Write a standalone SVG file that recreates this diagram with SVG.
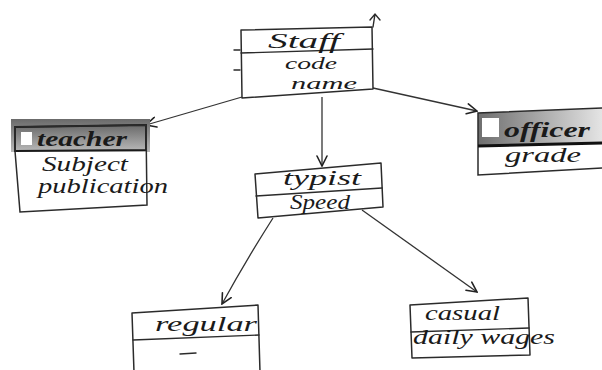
<svg xmlns="http://www.w3.org/2000/svg" width="602" height="370" viewBox="0 0 602 370">
<style>
.box{fill:#fff;stroke:#2b2b2b;stroke-width:1.5;stroke-linejoin:round}
.ln{fill:none;stroke:#2b2b2b;stroke-width:1.4;stroke-linecap:round}
.t{font-family:"Liberation Serif",serif;font-style:italic;fill:#1a1a1a;font-size:20px}
.s{font-size:17px}
.b{font-weight:bold}
.con{fill:none;stroke:#333;stroke-width:1.3;marker-end:url(#arr)}
</style>
<defs>
<marker id="arr" viewBox="0 0 12 12" refX="11" refY="6" markerWidth="12" markerHeight="12" markerUnits="userSpaceOnUse" orient="auto">
<path d="M1,1 L11,6 L1,11" fill="none" stroke="#222" stroke-width="1.6" stroke-linecap="round"/>
</marker>
<linearGradient id="gT" x1="0" y1="0" x2="0" y2="1">
<stop offset="0" stop-color="#6a6a6a"/><stop offset="1" stop-color="#b8b8b8"/>
</linearGradient>
<linearGradient id="gO" x1="0" y1="0" x2="1" y2="0">
<stop offset="0" stop-color="#6e6e6e"/><stop offset="1" stop-color="#e4e4e4"/>
</linearGradient>
</defs>
<rect width="602" height="370" fill="#fff"/>

<g id="connectors">
<path class="con" d="M242,97 L146,125"/>
<path class="con" d="M373,88 L477,111"/>
<path class="con" d="M322,97 L322,166"/>
<path class="con" d="M273,218 Q245,262 222,304"/>
<path class="con" d="M362,210 L477,292"/>
</g>

<g id="staff">
<polygon class="box" points="241,30 372,27 373,89 242,98"/>
<path class="ln" d="M241,53 L373,49"/>
<path class="ln" d="M373,27 L375,14 M370,20 L375,14 L380,20"/>
<path class="ln" d="M234,50 L240,50 M234,70 L240,70"/>
<text class="t" x="268" y="48" textLength="72" lengthAdjust="spacingAndGlyphs">Staff</text>
<text class="t s" x="285" y="69" textLength="52" lengthAdjust="spacingAndGlyphs">code</text>
<text class="t s" x="291" y="89" textLength="66" lengthAdjust="spacingAndGlyphs">name</text>
</g>

<g id="teacher">
<rect x="11" y="119" width="139" height="33" fill="url(#gT)"/>
<path d="M15,127 L146,125 L146,150 L15,151 Z" fill="url(#gT)" stroke="#1a1a1a" stroke-width="1.8"/>
<rect x="21" y="132" width="11" height="13" fill="#fff"/>
<path d="M15,151 L15,127 L146,125 L147,205 L20,212 L15,151" fill="none" stroke="#2b2b2b" stroke-width="1.5"/>
<text class="t b" x="37" y="146" textLength="90" lengthAdjust="spacingAndGlyphs">teacher</text>
<text class="t" x="42" y="171" textLength="86" lengthAdjust="spacingAndGlyphs">Subject</text>
<text class="t" x="38" y="193" textLength="130" lengthAdjust="spacingAndGlyphs">publication</text>
</g>

<g id="officer">
<path d="M478,113 L602,108 L602,143 L478,146 Z" fill="url(#gO)"/>
<path d="M478,146 L478,175 L602,168" fill="none" stroke="#2b2b2b" stroke-width="1.5"/>
<path d="M602,108 L478,113 L478,146" fill="none" stroke="#2b2b2b" stroke-width="1.5"/>
<path d="M478,146 L602,143" fill="none" stroke="#111" stroke-width="3"/>
<rect x="482" y="118" width="17" height="19" fill="#fff"/>
<text class="t b" x="504" y="137" textLength="86" lengthAdjust="spacingAndGlyphs">officer</text>
<text class="t" x="505" y="162" textLength="76" lengthAdjust="spacingAndGlyphs">grade</text>
</g>

<g id="typist">
<polygon class="box" points="255,174 381,163 383,207 258,218"/>
<path class="ln" d="M256,196 L382,188"/>
<text class="t" x="283" y="185" textLength="78" lengthAdjust="spacingAndGlyphs">typist</text>
<text class="t" x="290" y="209" textLength="60" lengthAdjust="spacingAndGlyphs">Speed</text>
</g>

<g id="regular">
<polygon class="box" points="132,313 258,305 260,372 134,372"/>
<path class="ln" d="M133,340 L259,335"/>
<text class="t" x="155" y="331" textLength="102" lengthAdjust="spacingAndGlyphs">regular</text>
<path class="ln" d="M180,354 L196,353"/>
</g>

<g id="casual">
<polygon class="box" points="410,305 528,298 530,355 412,358"/>
<path class="ln" d="M411,332 L529,328"/>
<text class="t" x="425" y="320" textLength="75" lengthAdjust="spacingAndGlyphs">casual</text>
<text class="t" x="413" y="344" textLength="142" lengthAdjust="spacingAndGlyphs">daily wages</text>
</g>
</svg>
